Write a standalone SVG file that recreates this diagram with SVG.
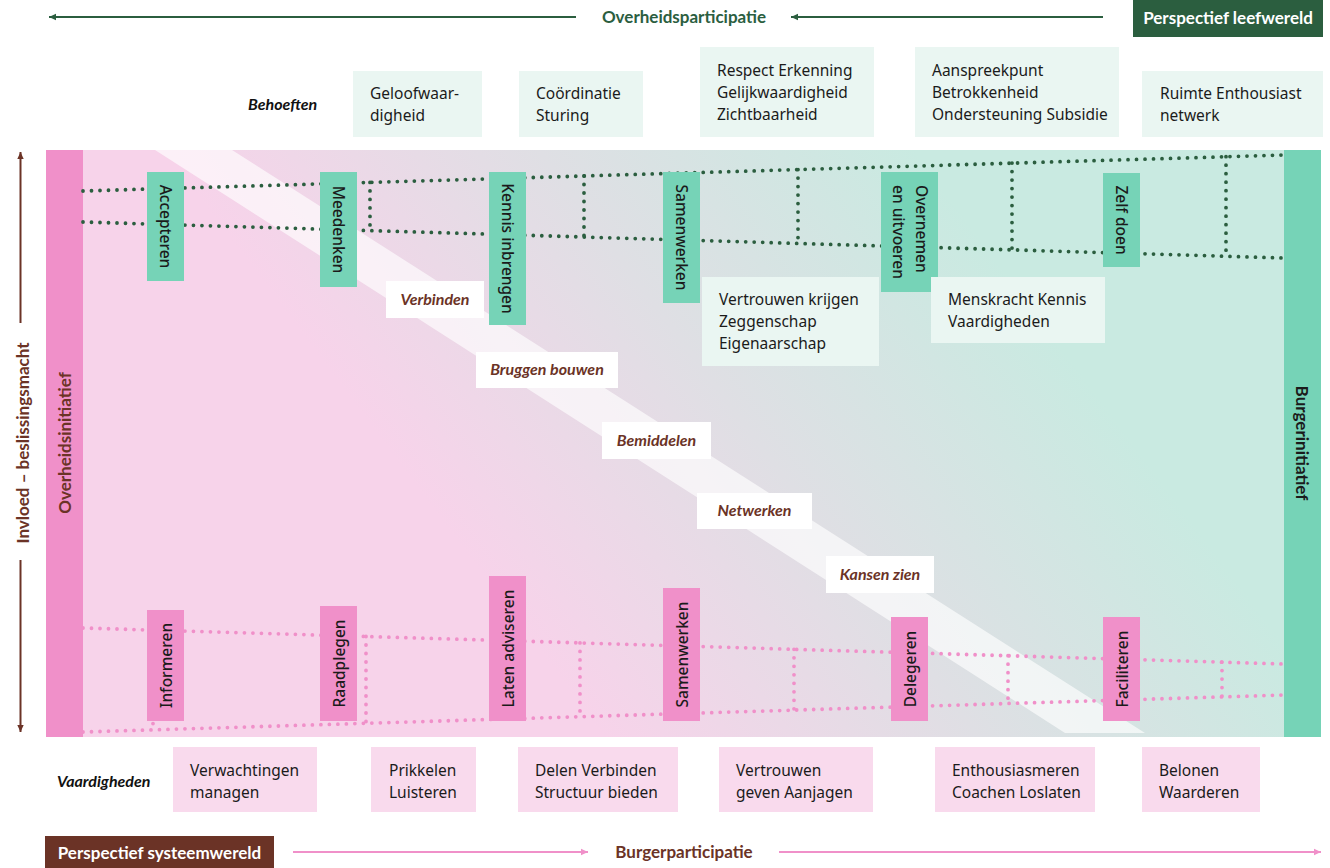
<svg xmlns="http://www.w3.org/2000/svg" width="1330" height="868" viewBox="0 0 1330 868">
  <defs>
    <linearGradient id="fieldGrad" gradientUnits="userSpaceOnUse" x1="505" y1="605" x2="985" y2="245">
      <stop offset="0" stop-color="#f7d3ea"/>
      <stop offset="0.5" stop-color="#dfdfe4"/>
      <stop offset="1" stop-color="#c9eae1"/>
    </linearGradient>
    <marker id="headGreen" markerUnits="userSpaceOnUse" markerWidth="10" markerHeight="10" refX="7" refY="4" orient="auto">
      <path d="M0,0.8 L7,4 L0,7.2 Z" fill="#2b5e3f"/>
    </marker>
    <marker id="headPink" markerUnits="userSpaceOnUse" markerWidth="10" markerHeight="10" refX="7" refY="4" orient="auto">
      <path d="M0,0.8 L7,4 L0,7.2 Z" fill="#f090c9"/>
    </marker>
    <marker id="headBrown" markerUnits="userSpaceOnUse" markerWidth="10" markerHeight="10" refX="7" refY="4" orient="auto">
      <path d="M0,0.8 L7,4 L0,7.2 Z" fill="#6b3326"/>
    </marker>
  </defs>
  <style>
    .body { font-family: "Noto Sans", "Open Sans", sans-serif; font-size: 15.5px; fill: #1b1b1b; }
    .node { font-family: "Noto Sans", "Open Sans", sans-serif; font-size: 15.5px; fill: #1b1b1b; font-weight: 500; }
    .lbl { font-family: Lato, "Open Sans", sans-serif; font-size: 16px; font-weight: bold; font-style: italic; fill: #6b3326; }
    .rowlbl { font-family: Lato, "Open Sans", sans-serif; font-size: 16px; font-weight: bold; font-style: italic; fill: #111; }
    .head { font-family: Lato, "Open Sans", sans-serif; font-size: 17px; font-weight: bold; }
    .need { fill: #eaf6f2; }
    .skill { fill: #f9daed; }
    .gnode { fill: #76d3b7; }
    .pnode { fill: #f090c9; }
    .bandlbl { fill: #ffffff; }
    .dotG { fill: none; stroke: #2b5e3f; stroke-width: 3.8; stroke-linecap: round; stroke-dasharray: 0 8.5; }
    .dotP { fill: none; stroke: #f090c9; stroke-width: 3.8; stroke-linecap: round; stroke-dasharray: 0 8.5; }
    .arrG { fill: none; stroke: #2b5e3f; stroke-width: 2; }
    .arrP { fill: none; stroke: #f090c9; stroke-width: 2; }
    .arrB { fill: none; stroke: #6b3326; stroke-width: 2; }
  </style>

  <!-- field with the diagonal bridge band -->
  <g id="field">
    <rect x="46" y="150" width="1275" height="587" fill="url(#fieldGrad)"/>
    <polygon points="155,150 232,150 1145,733 1065,733" fill="#ffffff" fill-opacity="0.65"/>
    <rect x="46" y="150" width="37" height="587" fill="#f090c9"/>
    <rect x="1284" y="150" width="37" height="587" fill="#76d3b7"/>
    <text class="head" font-size="17" fill="#6b3326" transform="rotate(-90 64 443)" x="64" y="443" text-anchor="middle" dominant-baseline="central" font-weight="600">Overheidsinitiatief</text>
    <text class="head" font-size="18" fill="#1b1b1b" transform="rotate(90 1302 443)" x="1302" y="443" text-anchor="middle" dominant-baseline="central">Burgerinitiatief</text>
  </g>

  <!-- connectors: dotted ladders and axis arrows -->
  <g id="connectors">
    <!-- upper ladder -->
    <line class="dotG" x1="83" y1="191" x2="1284" y2="155"/>
    <line class="dotG" x1="83" y1="222" x2="1284" y2="258"/>
    <line class="dotG" x1="156" y1="188.8" x2="156" y2="224.2"/>
    <line class="dotG" x1="370" y1="182.4" x2="370" y2="230.8"/>
    <line class="dotG" x1="584" y1="176" x2="584" y2="237.4"/>
    <line class="dotG" x1="798" y1="169.6" x2="798" y2="244"/>
    <line class="dotG" x1="1012" y1="163.1" x2="1012" y2="250.6"/>
    <line class="dotG" x1="1226" y1="156.7" x2="1226" y2="257.2"/>
    <!-- lower ladder -->
    <line class="dotP" x1="83" y1="628" x2="1284" y2="664"/>
    <line class="dotP" x1="83" y1="732" x2="1284" y2="695"/>
    <line class="dotP" x1="153" y1="630.1" x2="153" y2="729.8"/>
    <line class="dotP" x1="366" y1="636.5" x2="366" y2="723.3"/>
    <line class="dotP" x1="580" y1="642.9" x2="580" y2="716.7"/>
    <line class="dotP" x1="794" y1="649.3" x2="794" y2="710.1"/>
    <line class="dotP" x1="1008" y1="655.7" x2="1008" y2="703.5"/>
    <line class="dotP" x1="1222" y1="662.1" x2="1222" y2="696.9"/>
    <!-- top axis -->
    <line class="arrG" x1="576" y1="17" x2="49" y2="17" marker-end="url(#headGreen)"/>
    <line class="arrG" x1="1103" y1="17" x2="791" y2="17" marker-end="url(#headGreen)"/>
    <!-- bottom axis -->
    <line class="arrP" x1="293" y1="852" x2="588" y2="852" marker-end="url(#headPink)"/>
    <line class="arrP" x1="779" y1="852" x2="1321" y2="852" marker-end="url(#headPink)"/>
    <!-- vertical axis -->
    <line class="arrB" x1="20.5" y1="323" x2="20.5" y2="152" marker-end="url(#headBrown)"/>
    <line class="arrB" x1="20.5" y1="560" x2="20.5" y2="732" marker-end="url(#headBrown)"/>
  </g>

  <!-- axis captions -->
  <g id="axis-top">
    <text class="head" fill="#2b5e3f" x="684" y="23" text-anchor="middle" font-size="18">Overheidsparticipatie</text>
  </g>
  <g id="perspectief-leefwereld">
    <rect x="1133" y="0" width="190" height="37" fill="#2b5e3f"/>
    <text class="head" fill="#ffffff" x="1228" y="24" text-anchor="middle">Perspectief leefwereld</text>
  </g>
  <g id="axis-bottom">
    <text class="head" fill="#6b3326" x="684" y="858" text-anchor="middle" font-size="17.5">Burgerparticipatie</text>
  </g>
  <g id="perspectief-systeemwereld">
    <rect x="45" y="836" width="229" height="32" fill="#6b3326"/>
    <text class="head" fill="#ffffff" x="159.5" y="859" text-anchor="middle">Perspectief systeemwereld</text>
  </g>
  <g id="axis-left">
    <text class="head" fill="#6b3326" transform="rotate(-90 22 443)" x="22" y="443" text-anchor="middle" dominant-baseline="central" font-weight="600">Invloed – beslissingsmacht</text>
  </g>

  <!-- needs row -->
  <g id="behoeften">
    <text class="rowlbl" x="248" y="110">Behoeften</text>
  </g>
  <g id="need-1">
    <rect class="need" x="353" y="71" width="129" height="66"/>
    <text class="body" x="370" y="99">Geloofwaar-<tspan x="370" dy="22">digheid</tspan></text>
  </g>
  <g id="need-2">
    <rect class="need" x="519" y="71" width="124" height="66"/>
    <text class="body" x="536" y="99">Coördinatie<tspan x="536" dy="22">Sturing</tspan></text>
  </g>
  <g id="need-3">
    <rect class="need" x="700" y="47" width="174" height="90"/>
    <text class="body" x="717" y="76">Respect Erkenning<tspan x="717" dy="22">Gelijkwaardigheid</tspan><tspan x="717" dy="22">Zichtbaarheid</tspan></text>
  </g>
  <g id="need-4">
    <rect class="need" x="915" y="47" width="204" height="90"/>
    <text class="body" x="932" y="76">Aanspreekpunt<tspan x="932" dy="22">Betrokkenheid</tspan><tspan x="932" dy="22">Ondersteuning Subsidie</tspan></text>
  </g>
  <g id="need-5">
    <rect class="need" x="1142" y="71" width="181" height="66"/>
    <text class="body" x="1160" y="99">Ruimte Enthousiast<tspan x="1160" dy="22">netwerk</tspan></text>
  </g>

  <!-- upper steps -->
  <g id="accepteren">
    <rect class="gnode" x="147" y="172" width="37" height="109"/>
    <text class="node" transform="rotate(90 165.5 226.5)" x="165.5" y="226.5" text-anchor="middle" dominant-baseline="central">Accepteren</text>
  </g>
  <g id="meedenken">
    <rect class="gnode" x="320" y="172" width="37" height="115"/>
    <text class="node" transform="rotate(90 338.5 229.5)" x="338.5" y="229.5" text-anchor="middle" dominant-baseline="central">Meedenken</text>
  </g>
  <g id="kennis-inbrengen">
    <rect class="gnode" x="489" y="172" width="37" height="153"/>
    <text class="node" transform="rotate(90 507.5 248.5)" x="507.5" y="248.5" text-anchor="middle" dominant-baseline="central">Kennis inbrengen</text>
  </g>
  <g id="samenwerken-top">
    <rect class="gnode" x="663" y="172" width="37" height="131"/>
    <text class="node" transform="rotate(90 681.5 237.5)" x="681.5" y="237.5" text-anchor="middle" dominant-baseline="central">Samenwerken</text>
  </g>
  <g id="overnemen">
    <rect class="gnode" x="881" y="172" width="57" height="120"/>
    <text class="node" transform="rotate(90 910 185)" x="910" y="185" dominant-baseline="central"><tspan x="910" dy="-11.5">Overnemen</tspan><tspan x="910" dy="23">en uitvoeren</tspan></text>
  </g>
  <g id="zelf-doen">
    <rect class="gnode" x="1103" y="173" width="37" height="94"/>
    <text class="node" transform="rotate(90 1121.5 220)" x="1121.5" y="220" text-anchor="middle" dominant-baseline="central">Zelf doen</text>
  </g>

  <!-- needs under the upper steps -->
  <g id="need-6">
    <rect class="need" x="702" y="277" width="177" height="89"/>
    <text class="body" x="719" y="305">Vertrouwen krijgen<tspan x="719" dy="22">Zeggenschap</tspan><tspan x="719" dy="22">Eigenaarschap</tspan></text>
  </g>
  <g id="need-7">
    <rect class="need" x="931" y="277" width="174" height="66"/>
    <text class="body" x="948" y="305">Menskracht Kennis<tspan x="948" dy="22">Vaardigheden</tspan></text>
  </g>

  <!-- bridge labels -->
  <g id="verbinden">
    <rect class="bandlbl" x="386" y="281" width="98" height="37"/>
    <text class="lbl" x="435" y="304.5" text-anchor="middle">Verbinden</text>
  </g>
  <g id="bruggen-bouwen">
    <rect class="bandlbl" x="476" y="352" width="142" height="36"/>
    <text class="lbl" x="547" y="375" text-anchor="middle">Bruggen bouwen</text>
  </g>
  <g id="bemiddelen">
    <rect class="bandlbl" x="602" y="422" width="109" height="37"/>
    <text class="lbl" x="656.5" y="445.5" text-anchor="middle">Bemiddelen</text>
  </g>
  <g id="netwerken">
    <rect class="bandlbl" x="697" y="493" width="115" height="36"/>
    <text class="lbl" x="754.5" y="516" text-anchor="middle">Netwerken</text>
  </g>
  <g id="kansen-zien">
    <rect class="bandlbl" x="826" y="556" width="108" height="37"/>
    <text class="lbl" x="880" y="579.5" text-anchor="middle">Kansen zien</text>
  </g>

  <!-- lower steps -->
  <g id="informeren">
    <rect class="pnode" x="147" y="610" width="37" height="111"/>
    <text class="node" transform="rotate(-90 165.5 665.5)" x="165.5" y="665.5" text-anchor="middle" dominant-baseline="central">Informeren</text>
  </g>
  <g id="raadplegen">
    <rect class="pnode" x="320" y="606" width="37" height="115"/>
    <text class="node" transform="rotate(-90 338.5 663.5)" x="338.5" y="663.5" text-anchor="middle" dominant-baseline="central">Raadplegen</text>
  </g>
  <g id="laten-adviseren">
    <rect class="pnode" x="489" y="576" width="37" height="145"/>
    <text class="node" transform="rotate(-90 507.5 648.5)" x="507.5" y="648.5" text-anchor="middle" dominant-baseline="central">Laten adviseren</text>
  </g>
  <g id="samenwerken-bottom">
    <rect class="pnode" x="663" y="588" width="37" height="133"/>
    <text class="node" transform="rotate(-90 681.5 654.5)" x="681.5" y="654.5" text-anchor="middle" dominant-baseline="central">Samenwerken</text>
  </g>
  <g id="delegeren">
    <rect class="pnode" x="891" y="617" width="37" height="104"/>
    <text class="node" transform="rotate(-90 909.5 669)" x="909.5" y="669" text-anchor="middle" dominant-baseline="central">Delegeren</text>
  </g>
  <g id="faciliteren">
    <rect class="pnode" x="1103" y="617" width="37" height="104"/>
    <text class="node" transform="rotate(-90 1121.5 669)" x="1121.5" y="669" text-anchor="middle" dominant-baseline="central">Faciliteren</text>
  </g>

  <!-- skills row -->
  <g id="vaardigheden">
    <text class="rowlbl" x="57" y="787">Vaardigheden</text>
  </g>
  <g id="skill-1">
    <rect class="skill" x="173" y="747" width="144" height="65"/>
    <text class="body" x="190" y="776">Verwachtingen<tspan x="190" dy="22">managen</tspan></text>
  </g>
  <g id="skill-2">
    <rect class="skill" x="371" y="747" width="105" height="65"/>
    <text class="body" x="389" y="776">Prikkelen<tspan x="389" dy="22">Luisteren</tspan></text>
  </g>
  <g id="skill-3">
    <rect class="skill" x="518" y="747" width="160" height="65"/>
    <text class="body" x="535" y="776">Delen Verbinden<tspan x="535" dy="22">Structuur bieden</tspan></text>
  </g>
  <g id="skill-4">
    <rect class="skill" x="719" y="747" width="154" height="65"/>
    <text class="body" x="736" y="776">Vertrouwen<tspan x="736" dy="22">geven Aanjagen</tspan></text>
  </g>
  <g id="skill-5">
    <rect class="skill" x="935" y="747" width="160" height="65"/>
    <text class="body" x="952" y="776">Enthousiasmeren<tspan x="952" dy="22">Coachen Loslaten</tspan></text>
  </g>
  <g id="skill-6">
    <rect class="skill" x="1142" y="747" width="118" height="65"/>
    <text class="body" x="1159" y="776">Belonen<tspan x="1159" dy="22">Waarderen</tspan></text>
  </g>
</svg>
